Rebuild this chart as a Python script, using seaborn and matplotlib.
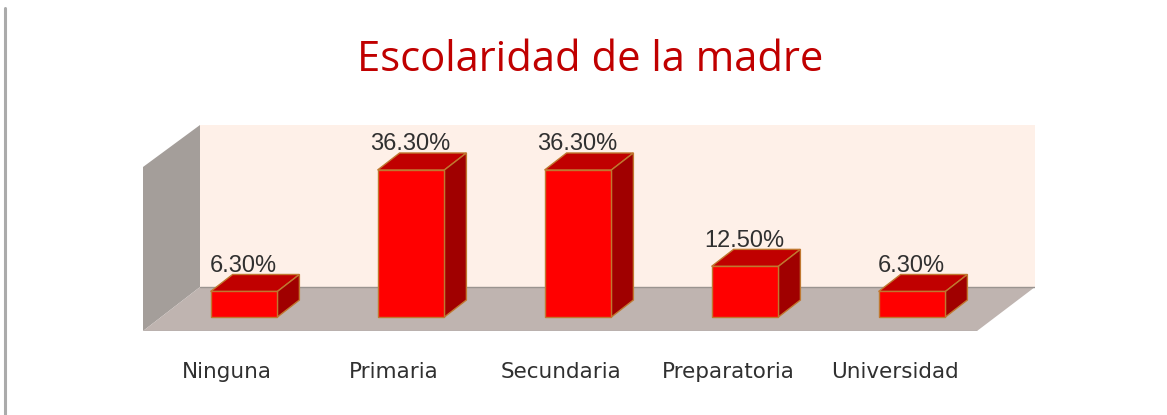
import matplotlib
matplotlib.use("Agg")
import matplotlib.pyplot as plt
from matplotlib.lines import Line2D
from matplotlib.patches import Polygon
from matplotlib.transforms import ScaledTranslation
import pandas as pd
import seaborn as sns

categories = ["Ninguna", "Primaria", "Secundaria", "Preparatoria", "Universidad"]
values = [6.3, 36.3, 36.3, 12.5, 6.3]
value_labels = ["6.30%", "36.30%", "36.30%", "12.50%", "6.30%"]
title = "Escolaridad de la madre"

W, H = 1167, 415
sns.set_theme(style="white")
plt.rcParams["font.family"] = ["DejaVu Sans"]
fig = plt.figure(figsize=(W / 100, H / 100), dpi=100, facecolor="white")

# axes box in pixels: the whole 3D frame
L, R, T, B = 143, 1035, 125, 331
ax = fig.add_axes([L / W, 1 - B / H, (R - L) / W, (B - T) / H])
ax.patch.set_visible(False)

STEP, X0, PX_PER_UNIT, BASE = 167.0, 244.0, 4.05, 317.0
ax.set_xlim((L - X0) / STEP, (R - X0) / STEP)
ax.set_ylim((BASE - B) / PX_PER_UNIT, (BASE - T) / PX_PER_UNIT)


def px(x, y):
    return ((x - X0) / STEP, (BASE - y) / PX_PER_UNIT)


df = pd.DataFrame({"cat": categories, "val": values})
sns.barplot(data=df, x="cat", y="val", color="#FF0000", saturation=1, width=0.4,
            edgecolor="#C07830", linewidth=1.0, ax=ax, zorder=5)
ax.set_xlim((L - X0) / STEP, (R - X0) / STEP)
ax.set_ylim((BASE - B) / PX_PER_UNIT, (BASE - T) / PX_PER_UNIT)

# frame panels
ax.add_patch(Polygon([px(200, 125), px(1035, 125), px(1035, 287), px(200, 287)],
                     fc="#FEF0E8", ec="none", zorder=1))
ax.add_patch(Polygon([px(143, 167), px(200, 125), px(200, 287), px(143, 331)],
                     fc="#A49E9A", ec="none", zorder=1))
ax.add_patch(Polygon([px(143, 331), px(200, 287), px(1035, 287), px(977, 331)],
                     fc="#BFB4B0", ec="none", zorder=1))
ax.add_line(Line2D(*zip(px(143, 331), px(977, 331)), color="#A8A8A8", lw=1, zorder=2))
ax.add_line(Line2D(*zip(px(200, 287), px(1035, 287)), color="#9A9490", lw=1, zorder=2))

# 3D sides of each bar, from the bar patches
DX, DY = 22 / STEP, 17 / PX_PER_UNIT
for bar, lab in zip(ax.patches[:5], value_labels):
    x0, w, h = bar.get_x(), bar.get_width(), bar.get_height()
    x1 = x0 + w
    ax.add_patch(Polygon([(x0, h), (x1, h), (x1 + DX, h + DY), (x0 + DX, h + DY)],
                         fc="#C00000", ec="#C07830", lw=1.0, zorder=4))
    ax.add_patch(Polygon([(x1, 0), (x1 + DX, DY), (x1 + DX, h + DY), (x1, h)],
                         fc="#A00000", ec="#C07830", lw=1.0, zorder=4))
    ax.annotate(lab, (x0 + w / 2, h), xytext=(-0.5, 18.5), textcoords="offset points",
                ha="center", va="center", fontsize=17, color="#303030",
                family="Liberation Sans", zorder=3)

# category labels
ax.set_xlabel("")
ax.set_ylabel("")
ax.set_yticks([])
ax.set_xticks(range(len(categories)))
ax.set_xticklabels(categories, fontsize=15.5, color="#303030")
ax.tick_params(axis="x", length=0, pad=22.5)
shift = ScaledTranslation(-17 / 100, 0, fig.dpi_scale_trans)
for t in ax.get_xticklabels():
    t.set_transform(t.get_transform() + shift)
sns.despine(ax=ax, left=True, bottom=True)

fig.text(590 / W, 1 - 60 / H, title, ha="center", va="center", fontsize=30,
         color="#C00000", family="Open Sans")
fig.add_artist(Line2D([5 / W, 5 / W], [0, 1 - 8 / H], color="#ABABAB", lw=2.2))

fig.savefig("out.png", dpi=100)
